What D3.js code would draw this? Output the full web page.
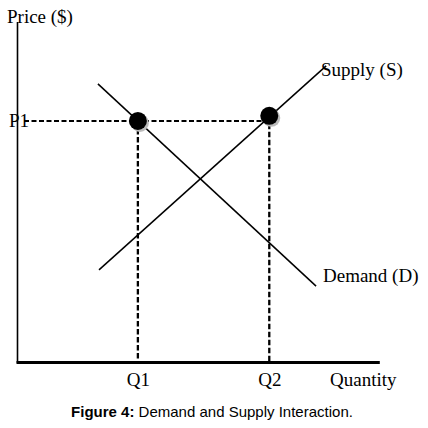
<!DOCTYPE html>
<html><head><meta charset="utf-8">
<script src="https://cdn.jsdelivr.net/npm/d3@7"></script>
<style>html,body{margin:0;padding:0;background:#fff;}svg{display:block;}</style>
</head><body>
<script>
// Data (quantity / price units)
const demand = [{q: 2.22, p: 8.21}, {q: 8.28, p: 2.26}];
const supply = [{q: 2.25, p: 2.74}, {q: 8.56, p: 8.74}];
const equilibriumPoints = [{q: 3.33, p: 7.12}, {q: 6.98, p: 7.27}];
const priceLevel = 7.12;
const quantityLevels = [3.33, 6.98];
const quantityLabels = ["Q1", "Q2"];
const priceLabels = ["P1"];

const W = 428, H = 428;
const svg = d3.select("body").append("svg").attr("width", W).attr("height", H);

const x = d3.scaleLinear().domain([0, 10]).range([18, 378]);
const y = d3.scaleLinear().domain([0, 10]).range([363, 23]);

const serif = "'Liberation Serif', 'Times New Roman', serif";

// Axes
svg.append("line").attr("x1", 17.5).attr("x2", 17.5).attr("y1", 22).attr("y2", 363)
  .attr("stroke", "#000").attr("stroke-width", 1.6);
svg.append("line").attr("x1", 16.5).attr("x2", x(10.05)).attr("y1", 362.5).attr("y2", 362.5)
  .attr("stroke", "#000").attr("stroke-width", 2.8);

// Dashed guides
svg.append("line").attr("x1", 24).attr("x2", x(quantityLevels[1])).attr("y1", y(priceLevel)).attr("y2", y(priceLevel))
  .attr("stroke", "#000").attr("stroke-width", 2).attr("stroke-dasharray", "5,2.5");
quantityLevels.forEach((q, i) => {
  svg.append("line").attr("x1", x(q)).attr("x2", x(q)).attr("y1", y(equilibriumPoints[i].p)).attr("y2", 362)
    .attr("stroke", "#000").attr("stroke-width", 2.3).attr("stroke-dasharray", "5.5,2.5");
});

// Curves
const line = d3.line().x(d => x(d.q)).y(d => y(d.p));
svg.append("path").datum(demand).attr("d", line).attr("fill", "none").attr("stroke", "#000").attr("stroke-width", 1.5);
svg.append("path").datum(supply).attr("d", line).attr("fill", "none").attr("stroke", "#000").attr("stroke-width", 1.5);

// Dots with shadow
svg.selectAll("circle.sh").data(equilibriumPoints).enter().append("circle")
  .attr("cx", d => x(d.q) + 2).attr("cy", d => y(d.p) + 2).attr("r", 9).attr("fill", "#bbb");
svg.selectAll("circle.pt").data(equilibriumPoints).enter().append("circle")
  .attr("cx", d => x(d.q)).attr("cy", d => y(d.p)).attr("r", 9).attr("fill", "#000");

// Text
const t = (txt, xx, yy, opts = {}) => svg.append("text").attr("x", xx).attr("y", yy)
  .attr("font-family", opts.family || serif).attr("font-size", opts.size || 19)
  .attr("text-anchor", opts.anchor || "start").attr("fill", "#000").text(txt);

t("Price ($)", 7, 23);
t(priceLabels[0], 9, 127);
t("Supply (S)", 321, 76);
t("Demand (D)", 323, 282);
quantityLabels.forEach((lab, i) => t(lab, x(quantityLevels[i]) + 0.5, 386, {anchor: "middle"}));
t("Quantity", 330, 386);

const cap = svg.append("text").attr("x", 212).attr("y", 417).attr("text-anchor", "middle")
  .attr("font-family", "'Liberation Sans', Arial, sans-serif").attr("font-size", 15).attr("fill", "#000");
cap.append("tspan").attr("font-weight", "bold").text("Figure 4:");
cap.append("tspan").text(" Demand and Supply Interaction.");
</script>
</body></html>
